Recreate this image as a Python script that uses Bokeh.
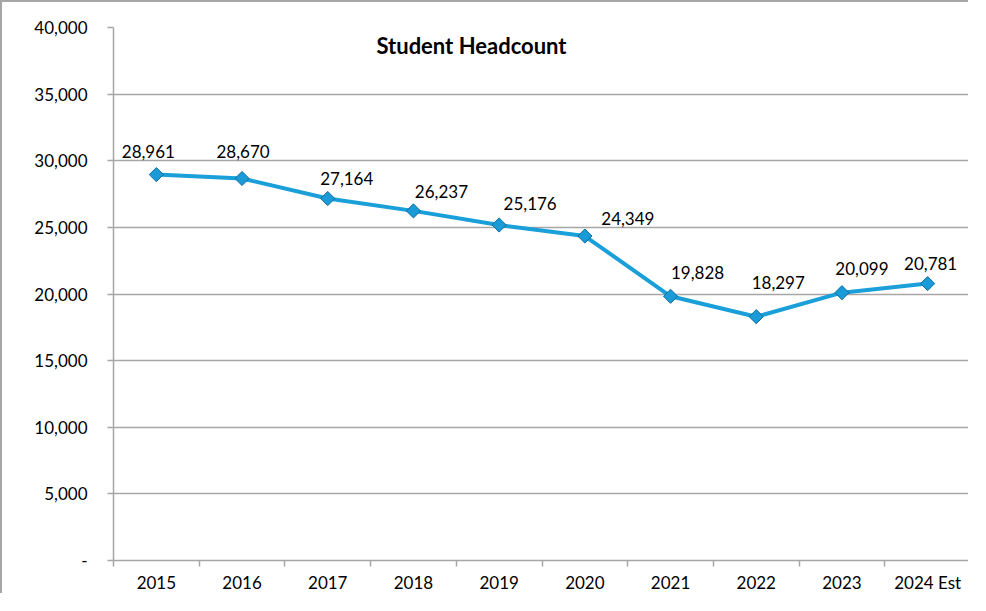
import math
from bokeh.plotting import figure
from bokeh.models import (Range1d, FixedTicker, NumeralTickFormatter, ColumnDataSource, Label)
from bokeh.core.properties import value
from bokeh.embed import file_html
from bokeh.resources import INLINE

# ---- data ----
years = ["2015", "2016", "2017", "2018", "2019", "2020", "2021", "2022", "2023", "2024 Est"]
headcount = [28961, 28670, 27164, 26237, 25176, 24349, 19828, 18297, 20099, 20781]
y_ticks = [0, 5000, 10000, 15000, 20000, 25000, 30000, 35000, 40000]
title_text = "Student Headcount"

# ---- label placement (pixel offsets, layout only; negative dy = up) ----
label_dx = [-8, 1, 19, 28, 31, 43, 27, 22, 20, 3]
label_dy = [-23, -27, -20, -19, -22, -18, -24, -34, -24, -20]

FONT = "Lato"
GRID = "#a6a6a6"
LINE = "#1a9fd9"

n = len(years)
xs = [i + 0.5 for i in range(n)]
src = ColumnDataSource(dict(
    x=xs, y=headcount,
    lbl=[f"{v:,}" for v in headcount],
    dx=label_dx, dy=label_dy,
))

p = figure(width=968, height=593, output_backend="svg", toolbar_location=None,
           x_range=Range1d(0, n), y_range=Range1d(0, 40000),
           min_border_left=111, min_border_top=25, min_border_right=0, min_border_bottom=35)
p.outline_line_color = None
p.background_fill_color = "white"
p.border_fill_color = "white"
p.styles = {"border-left": "2px solid #a6a6a6", "border-top": "2px solid #a6a6a6"}

# grid
p.xgrid.visible = False
p.ygrid.ticker = FixedTicker(ticks=y_ticks)
p.ygrid.grid_line_color = GRID
p.ygrid.grid_line_width = 1.5

# y axis
ya = p.yaxis[0]
ya.ticker = FixedTicker(ticks=y_ticks)
ya.formatter = NumeralTickFormatter(format="0,0")
ya.major_label_overrides = {0: "-"}
ya.axis_line_color = GRID
ya.axis_line_width = 1.5
ya.major_tick_line_color = GRID
ya.major_tick_line_width = 1.5
ya.major_tick_out = 6
ya.major_tick_in = 0
ya.minor_tick_line_color = None
ya.major_label_standoff = 20
ya.major_label_text_font = FONT
ya.major_label_text_font_size = "17px"
ya.major_label_text_color = "black"

# x axis
xa = p.xaxis[0]
xa.ticker = FixedTicker(ticks=xs, minor_ticks=list(range(n + 1)))
xa.major_label_overrides = {x: y for x, y in zip(xs, years)}
xa.axis_line_color = GRID
xa.axis_line_width = 1.5
xa.major_tick_line_color = None
xa.major_tick_out = 0
xa.major_tick_in = 0
xa.minor_tick_line_color = GRID
xa.minor_tick_line_width = 1.5
xa.minor_tick_out = 6
xa.minor_tick_in = 0
xa.major_label_standoff = 5
xa.major_label_text_font = FONT
xa.major_label_text_font_size = "17px"
xa.major_label_text_color = "black"

# series
p.line("x", "y", source=src, line_color=LINE, line_width=4)
p.scatter("x", "y", source=src, marker="square", size=10, angle=math.pi / 4,
          fill_color="#1a9ad6", line_color="#0e6e9e", line_width=1)

p.text("x", "y", text="lbl", source=src, x_offset="dx", y_offset="dy",
       text_align="center", text_baseline="middle",
       text_font=value(FONT), text_font_size="17px", text_color="black")

# chart title drawn inside the plot area (screen units relative to the frame)
p.add_layout(Label(x=358, y=515, x_units="screen", y_units="screen",
                   text=title_text, text_font=FONT, text_font_size="22px",
                   text_font_style="bold", text_align="center", text_baseline="middle",
                   text_color="black"))

open("out.html", "w").write(file_html(p, INLINE))
